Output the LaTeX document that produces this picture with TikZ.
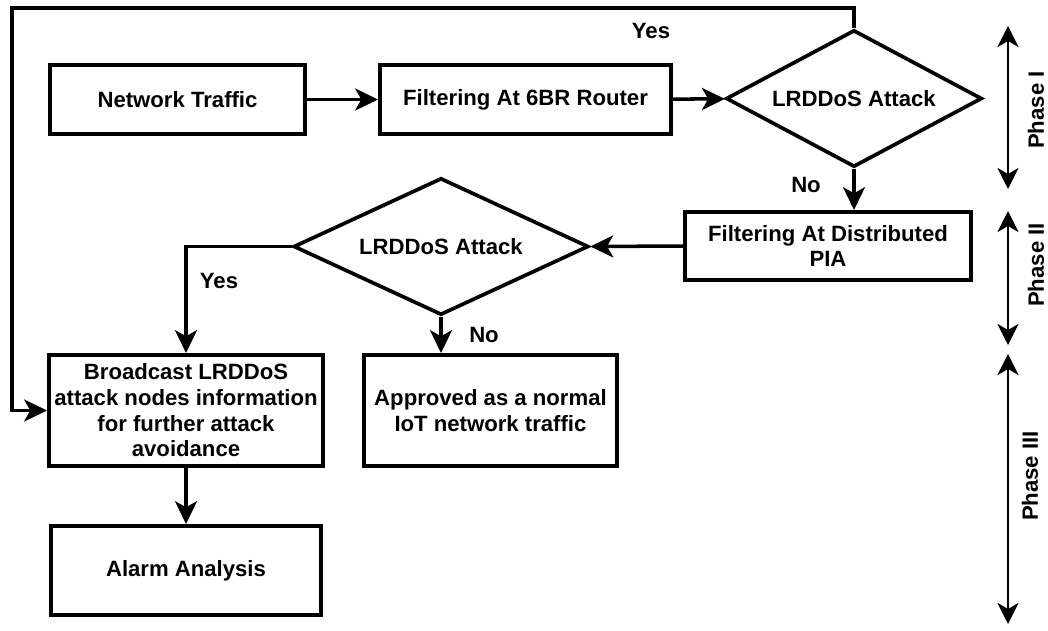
\documentclass[tikz,border=0pt]{standalone}
\usepackage{fontspec}
\setmainfont{Liberation Sans}
\usetikzlibrary{shapes.geometric,arrows.meta}
\begin{document}
\begin{tikzpicture}[x=0.02cm,y=-0.02cm,
  every node/.style={font=\fontsize{12.6pt}{14.6pt}\selectfont\bfseries},
  box/.style={draw,line width=2.1pt,rectangle,align=center,inner sep=2pt},
  decision/.style={draw,line width=2.1pt,diamond,aspect=1.9,inner sep=0pt},
  arr/.style={line width=2pt,-{Stealth[length=13pt,width=12.5pt,inset=3.5pt]}},
  phase/.style={line width=1.5pt,{Stealth[length=12pt,width=12pt,inset=3.5pt]}-{Stealth[length=12pt,width=12pt,inset=3.5pt]}},
  lbl/.style={inner sep=0pt}]
\useasboundingbox (0,0) rectangle (1048,630);

% phase I
\node[box,minimum width=259*0.02cm-2.1pt,minimum height=73*0.02cm-2.1pt] (nt) at (177.5,99.5) {Network Traffic};
\node[box,minimum width=295*0.02cm-2.1pt,minimum height=73*0.02cm-2.1pt] (fr) at (525.5,99.5) {Filtering At 6BR Router};
\node[decision,minimum width=256*0.02cm,minimum height=137*0.02cm] (d1) at (854,98.5) {LRDDoS Attack};

% phase II
\node[box,minimum width=290*0.02cm-2.1pt,minimum height=72*0.02cm-2.1pt] (pia) at (828,246) {Filtering At Distributed\\PIA};
\node[decision,minimum width=295*0.02cm,minimum height=137*0.02cm] (d2) at (441,246.5) {LRDDoS Attack};

% phase III
\node[box,minimum width=278*0.02cm-2.1pt,minimum height=115*0.02cm-2.1pt] (bc) at (186,410.5) {Broadcast LRDDoS\\attack nodes information\\for further attack\\avoidance};
\node[box,minimum width=257*0.02cm-2.1pt,minimum height=115*0.02cm-2.1pt] (ok) at (490.5,410.5) {Approved as a normal\\IoT network traffic};
\node[box,minimum width=274*0.02cm-2.1pt,minimum height=93*0.02cm-2.1pt] (al) at (186,570.5) {Alarm Analysis};

% connectors
\coordinate (tl) at (12,8);
\draw[arr] (nt) -- (fr);
\draw[arr] (fr) -- (d1);
\draw[arr] (d1.south) -- (d1.south |- pia.north);
\draw[arr,line join=miter] (d1.north) |- (tl) |- (bc.west);
\draw[arr] (pia.west) -- (d2.east);
\draw[arr] (d2.west) -| (bc.north);
\draw[arr] (d2.south) -- (d2.south |- ok.north);
\draw[arr] (bc.south) -- (al.north);

% branch labels
\node[lbl] (y1) at (651,31) {Yes};
\node[lbl] (n1) at (806,185) {No};
\node[lbl] (y2) at (219,281) {Yes};
\node[lbl] (n2) at (484,335) {No};

% phase ranges
\coordinate (p1a) at (1008,26);
\coordinate (p1b) at (1008,189);
\coordinate (p2a) at (1008,211);
\coordinate (p2b) at (1008,345);
\coordinate (p3a) at (1008,354);
\coordinate (p3b) at (1008,624);
\draw[phase] (p1a) -- (p1b);
\draw[phase] (p2a) -- (p2b);
\draw[phase] (p3a) -- (p3b);
\node[lbl,rotate=90] (t1) at (1036,110) {Phase I};
\node[lbl,rotate=90] (t2) at (1036,265) {Phase II};
\node[lbl,rotate=90] (t3) at (1030,476) {Phase III};
\end{tikzpicture}
\end{document}
